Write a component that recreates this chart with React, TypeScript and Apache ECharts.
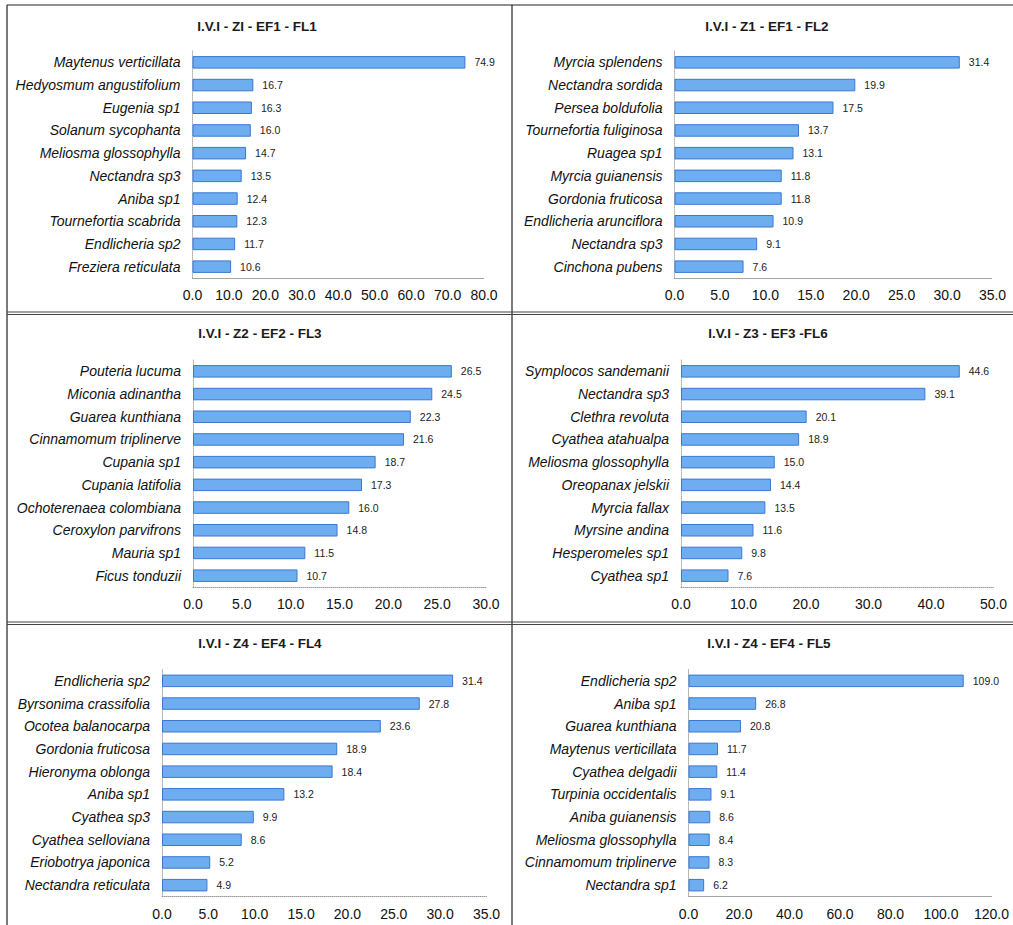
import React, { useEffect, useRef } from "react";
import * as echarts from "echarts";

const titles = [
  "I.V.I - ZI - EF1 - FL1",
  "I.V.I - Z1 - EF1 - FL2",
  "I.V.I - Z2 - EF2 - FL3",
  "I.V.I - Z3 - EF3 -FL6",
  "I.V.I - Z4 - EF4 - FL4",
  "I.V.I - Z4 - EF4 - FL5",
];

const species1 = ["Maytenus verticillata", "Hedyosmum angustifolium", "Eugenia sp1", "Solanum sycophanta", "Meliosma glossophylla", "Nectandra sp3", "Aniba sp1", "Tournefortia scabrida", "Endlicheria sp2", "Freziera reticulata"];
const values1 = [74.9, 16.7, 16.3, 16.0, 14.7, 13.5, 12.4, 12.3, 11.7, 10.6];

const species2 = ["Myrcia splendens", "Nectandra sordida", "Persea boldufolia", "Tournefortia fuliginosa", "Ruagea sp1", "Myrcia guianensis", "Gordonia fruticosa", "Endlicheria arunciflora", "Nectandra sp3", "Cinchona pubens"];
const values2 = [31.4, 19.9, 17.5, 13.7, 13.1, 11.8, 11.8, 10.9, 9.1, 7.6];

const species3 = ["Pouteria lucuma", "Miconia adinantha", "Guarea kunthiana", "Cinnamomum triplinerve", "Cupania sp1", "Cupania latifolia", "Ochoterenaea colombiana", "Ceroxylon parvifrons", "Mauria sp1", "Ficus tonduzii"];
const values3 = [26.5, 24.5, 22.3, 21.6, 18.7, 17.3, 16.0, 14.8, 11.5, 10.7];

const species4 = ["Symplocos sandemanii", "Nectandra sp3", "Clethra revoluta", "Cyathea atahualpa", "Meliosma glossophylla", "Oreopanax jelskii", "Myrcia fallax", "Myrsine andina", "Hesperomeles sp1", "Cyathea sp1"];
const values4 = [44.6, 39.1, 20.1, 18.9, 15.0, 14.4, 13.5, 11.6, 9.8, 7.6];

const species5 = ["Endlicheria sp2", "Byrsonima crassifolia", "Ocotea balanocarpa", "Gordonia fruticosa", "Hieronyma oblonga", "Aniba sp1", "Cyathea sp3", "Cyathea selloviana", "Eriobotrya japonica", "Nectandra reticulata"];
const values5 = [31.4, 27.8, 23.6, 18.9, 18.4, 13.2, 9.9, 8.6, 5.2, 4.9];

const species6 = ["Endlicheria sp2", "Aniba sp1", "Guarea kunthiana", "Maytenus verticillata", "Cyathea delgadii", "Turpinia occidentalis", "Aniba guianensis", "Meliosma glossophylla", "Cinnamomum triplinerve", "Nectandra sp1"];
const values6 = [109.0, 26.8, 20.8, 11.7, 11.4, 9.1, 8.6, 8.4, 8.3, 6.2];

const axisMax = [80, 35, 30, 50, 35, 120];
const axisStep = [10, 5, 5, 10, 5, 20];

const speciesList = [species1, species2, species3, species4, species5, species6];
const valuesList = [values1, values2, values3, values4, values5, values6];

// layout (pixels)
const gridLeft = [192.5, 674.5, 193, 681, 162, 688.5];
const gridWidth = [291.5, 318, 293, 312.5, 324.5, 303];
const gridTop = [51, 51, 360, 360, 669.5, 669.5];
const gridHeight = 227;
const titleX = [257, 767, 260, 768, 260, 769];
const titleY = [19, 19, 326, 326, 636, 636];

const FONT = "'Liberation Sans', Arial, sans-serif";

export default function App() {
  const ref = useRef<HTMLDivElement>(null);
  useEffect(() => {
    if (!ref.current) return;
    const chart = echarts.init(ref.current, undefined, { renderer: "svg" });
    const idx = [0, 1, 2, 3, 4, 5];
    const lineStyle = { stroke: "#222", lineWidth: 1.2 };
    const option: any = {
      animation: false,
      backgroundColor: "#fff",
      textStyle: { fontFamily: FONT },
      title: idx.map((i) => ({
        text: titles[i],
        left: titleX[i],
        top: titleY[i],
        textAlign: "center",
        padding: 0,
        textStyle: { fontFamily: FONT, fontSize: 13.5, fontWeight: "bold", color: "#1a1a1a" },
      })),
      grid: idx.map((i) => ({
        left: gridLeft[i],
        top: gridTop[i],
        width: gridWidth[i],
        height: gridHeight,
        containLabel: false,
      })),
      xAxis: idx.map((i) => ({
        type: "value",
        gridIndex: i,
        min: 0,
        max: axisMax[i],
        interval: axisStep[i],
        splitLine: { show: false },
        axisTick: { show: false },
        axisLine: { show: true, lineStyle: { color: "#9a9a9a", type: "dotted", width: 1 } },
        axisLabel: {
          fontFamily: FONT,
          fontSize: 14,
          color: "#111",
          margin: 10,
          formatter: (v: number) => v.toFixed(1),
        },
      })),
      yAxis: idx.map((i) => ({
        type: "category",
        gridIndex: i,
        inverse: true,
        data: speciesList[i],
        axisTick: { show: false },
        axisLine: { show: true, lineStyle: { color: "#b0b0b0", type: "dotted", width: 1 } },
        axisLabel: {
          fontFamily: FONT,
          fontSize: 14,
          fontStyle: "italic",
          color: "#111",
          margin: 12,
        },
      })),
      series: idx.map((i) => ({
        type: "bar",
        xAxisIndex: i,
        yAxisIndex: i,
        data: valuesList[i],
        barWidth: 12.5,
        itemStyle: { color: "#6eaef0", borderColor: "#3a78cf", borderWidth: 1 },
        label: {
          show: true,
          position: "right",
          distance: 9,
          fontFamily: FONT,
          fontSize: 10.5,
          color: "#222",
          formatter: (p: any) => Number(p.value).toFixed(1),
        },
      })),
      graphic: [
        { type: "line", shape: { x1: 7, y1: 5, x2: 1013, y2: 5 }, style: lineStyle },
        { type: "line", shape: { x1: 7, y1: 5, x2: 7, y2: 925 }, style: lineStyle },
        { type: "line", shape: { x1: 512, y1: 5, x2: 512, y2: 925 }, style: lineStyle },
        { type: "line", shape: { x1: 7, y1: 312, x2: 1013, y2: 312 }, style: { stroke: "#444", lineWidth: 1 } },
        { type: "line", shape: { x1: 7, y1: 314.5, x2: 1013, y2: 314.5 }, style: { stroke: "#444", lineWidth: 1 } },
        { type: "line", shape: { x1: 7, y1: 622, x2: 1013, y2: 622 }, style: { stroke: "#444", lineWidth: 1 } },
        { type: "line", shape: { x1: 7, y1: 624.5, x2: 1013, y2: 624.5 }, style: { stroke: "#444", lineWidth: 1 } },
      ],
    };
    chart.setOption(option);
    return () => chart.dispose();
  }, []);
  return (
    <div
      ref={ref}
      style={{ position: "absolute", left: 0, top: 0, width: 1013, height: 925, background: "#fff" }}
    />
  );
}
